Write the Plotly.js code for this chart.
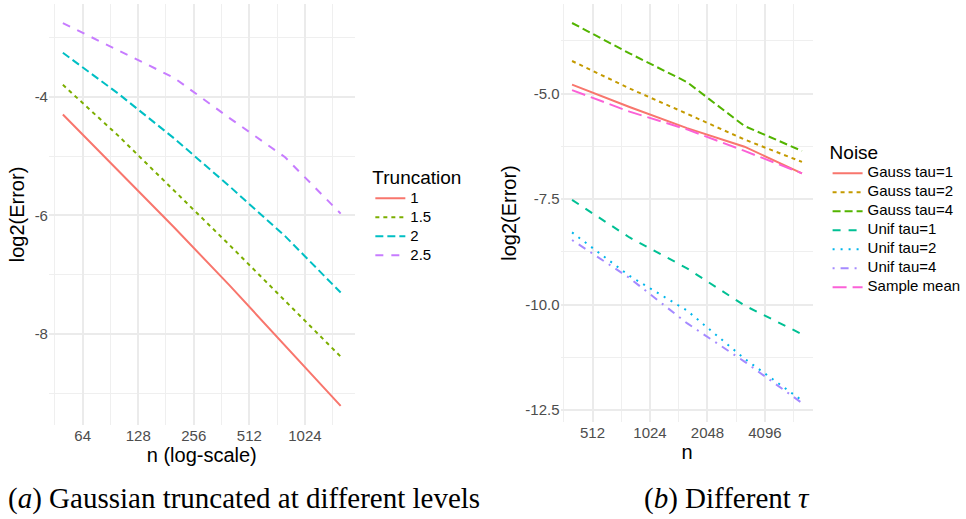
<!DOCTYPE html>
<html><head><meta charset="utf-8">
<script src="https://cdn.plot.ly/plotly-3.0.1.min.js"></script>
<style>html,body{margin:0;padding:0;background:#fff}#chart{width:966px;height:519px}</style>
</head><body><div id="chart"></div>
<script>
// ---- Data: panel (a) ----
const nLeft = [50, 100, 200, 400, 800, 1600];
const truncLabels = ["1", "1.5", "2", "2.5"];
const trunc1  = [-4.30, -5.25, -6.20, -7.18, -8.20, -9.21];
const trunc15 = [-3.80, -4.66, -5.58, -6.50, -7.44, -8.38];
const trunc2  = [-3.26, -3.95, -4.70, -5.51, -6.35, -7.30];
const trunc25 = [-2.76, -3.22, -3.68, -4.36, -5.02, -5.97];
const leftXTicks = [64, 128, 256, 512, 1024];
const leftYTicks = [-4, -6, -8];

// ---- Data: panel (b) ----
const nRight = [400, 800, 1600, 3200, 6400];
const noiseLabels = ["Gauss tau=1", "Gauss tau=2", "Gauss tau=4", "Unif tau=1", "Unif tau=2", "Unif tau=4", "Sample mean"];
const gauss1 = [-4.79, -5.32, -5.82, -6.26, -6.89];
const gauss2 = [-4.23, -4.88, -5.48, -6.09, -6.62];
const gauss4 = [-3.33, -4.05, -4.73, -5.77, -6.36];
const unif1  = [-7.52, -8.41, -9.14, -10.02, -10.70];
const unif2  = [-8.29, -9.32, -10.14, -11.28, -12.27];
const unif4  = [-8.47, -9.37, -10.44, -11.35, -12.33];
const sampleMean = [-4.92, -5.43, -5.85, -6.36, -6.89];
const rightXTicks = [512, 1024, 2048, 4096];
const rightYTicks = [-5, -7.5, -10, -12.5];
const rightYTickText = ["-5.0", "-7.5", "-10.0", "-12.5"];

const captionA = "(<i>a</i>) Gaussian truncated at different levels";
const captionB = "(<i>b</i>) Different <i>τ</i>";

// ---- Layout helpers ----
const W = 966, H = 519;
const px = x => x / W, py = y => 1 - y / H;
const L2 = Math.log10(2);
function logRange(ns) {
  const a = Math.log2(Math.min(...ns)), b = Math.log2(Math.max(...ns)), e = (b - a) * 0.05;
  return [(a - e) * L2, (b + e) * L2];
}
function linRange(arrs) {
  const all = [].concat(...arrs), a = Math.min(...all), b = Math.max(...all), e = (b - a) * 0.05;
  return [a - e, b + e];
}
function halfSteps(ticks) {
  const out = [ticks[0] / Math.SQRT2];
  ticks.forEach(t => out.push(t * Math.SQRT2));
  return out;
}
function midSteps(ticks) {
  const d = ticks[1] - ticks[0], out = [ticks[0] - d / 2];
  ticks.forEach(t => out.push(t + d / 2));
  return out;
}

const FONT = "Liberation Sans, Arial, sans-serif";
const SERIF = "Liberation Serif, Times New Roman, serif";
const leftColors = ["#F8766D", "#7CAE00", "#00BFC4", "#C77CFF"];
const leftDash = ["solid", "4px,4px", "8px,4px", "8px,8px"];
const rightColors = ["#F8766D", "#C49A00", "#53B400", "#00C094", "#00B6EB", "#A58AFF", "#FB61D7"];
const rightDash = ["solid", "4px,4px", "8px,4px", "8px,8px", "2px,6px", "2px,6px,8px,6px", "14px,6px"];

const leftSeries = [trunc1, trunc15, trunc2, trunc25];
const rightSeries = [gauss1, gauss2, gauss4, unif1, unif2, unif4, sampleMean];
const legendText = s => '<span style="font-size:15px">' + s + '</span>';

const traces = [];
leftSeries.forEach((ys, i) => traces.push({
  x: nLeft, y: ys, type: "scatter", mode: "lines", name: legendText(truncLabels[i]),
  xaxis: "x", yaxis: "y", legend: "legend",
  line: {color: leftColors[i], width: 2, dash: leftDash[i]}
}));
rightSeries.forEach((ys, i) => traces.push({
  x: nRight, y: ys, type: "scatter", mode: "lines", name: legendText(noiseLabels[i]),
  xaxis: "x2", yaxis: "y2", legend: "legend2",
  line: {color: rightColors[i], width: 2, dash: rightDash[i]}
}));

const grid = {showgrid: true, gridcolor: "#EBEBEB", gridwidth: 2, zeroline: false, showline: false, ticks: "", automargin: false};
const minorGrid = vals => ({tickmode: "array", tickvals: vals, showgrid: true, gridcolor: "#EFEFEF", gridwidth: 1, ticks: ""});
const tickFont = {family: FONT, size: 15, color: "#4D4D4D"};
const titleFont = {family: FONT, size: 20, color: "#000"};

const layout = {
  width: W, height: H, margin: {l: 0, r: 0, t: 0, b: 0},
  paper_bgcolor: "#fff", plot_bgcolor: "#fff", font: {family: FONT},
  xaxis: Object.assign({}, grid, {
    type: "log", domain: [px(49.6), px(359)], range: logRange(nLeft), anchor: "y",
    tickmode: "array", tickvals: leftXTicks, ticktext: leftXTicks.map(String), tickfont: tickFont,
    minor: minorGrid(halfSteps(leftXTicks)),
    title: {text: "n (log-scale)", font: titleFont, standoff: 3}
  }),
  yaxis: Object.assign({}, grid, {
    domain: [py(425), py(4)], range: linRange(leftSeries), anchor: "x",
    tickmode: "array", tickvals: leftYTicks, ticktext: leftYTicks.map(String), tickfont: tickFont,
    minor: minorGrid(midSteps(leftYTicks)),
    title: {text: "log2(Error)", font: titleFont, standoff: 4}
  }),
  xaxis2: Object.assign({}, grid, {
    type: "log", domain: [px(567.6), px(823.7)], range: logRange(nRight), anchor: "y2",
    tickmode: "array", tickvals: rightXTicks, ticktext: rightXTicks.map(String), tickfont: tickFont,
    minor: minorGrid(halfSteps(rightXTicks)),
    title: {text: "n", font: titleFont, standoff: 3}
  }),
  yaxis2: Object.assign({}, grid, {
    domain: [py(422), py(4)], range: linRange(rightSeries), anchor: "x2",
    tickmode: "array", tickvals: rightYTicks, ticktext: rightYTickText, tickfont: tickFont,
    minor: minorGrid(midSteps(rightYTicks)),
    title: {text: "log2(Error)", font: titleFont, standoff: 3}
  }),
  showlegend: true,
  legend: {
    x: px(375), y: py(159), xanchor: "left", yanchor: "top", bgcolor: "rgba(0,0,0,0)",
    title: {text: "Truncation", font: {family: FONT, size: 19, color: "#000"}},
    font: {family: FONT, size: 11.8, color: "#000"}, itemwidth: 30, tracegroupgap: 0
  },
  legend2: {
    x: px(838), y: py(134), xanchor: "left", yanchor: "top", bgcolor: "rgba(0,0,0,0)",
    title: {text: "Noise", font: {family: FONT, size: 19, color: "#000"}},
    font: {family: FONT, size: 10.6, color: "#000"}, itemwidth: 30, tracegroupgap: 0
  },
  annotations: [
    {text: captionA, xref: "paper", yref: "paper", x: px(6), y: py(498), xanchor: "left", yanchor: "middle",
     showarrow: false, font: {family: SERIF, size: 29, color: "#000"}},
    {text: captionB, xref: "paper", yref: "paper", x: px(650), y: py(498), xanchor: "left", yanchor: "middle",
     showarrow: false, font: {family: SERIF, size: 29, color: "#000"}}
  ]
};

Plotly.newPlot("chart", traces, layout, {displayModeBar: false, staticPlot: true});
</script></body></html>
